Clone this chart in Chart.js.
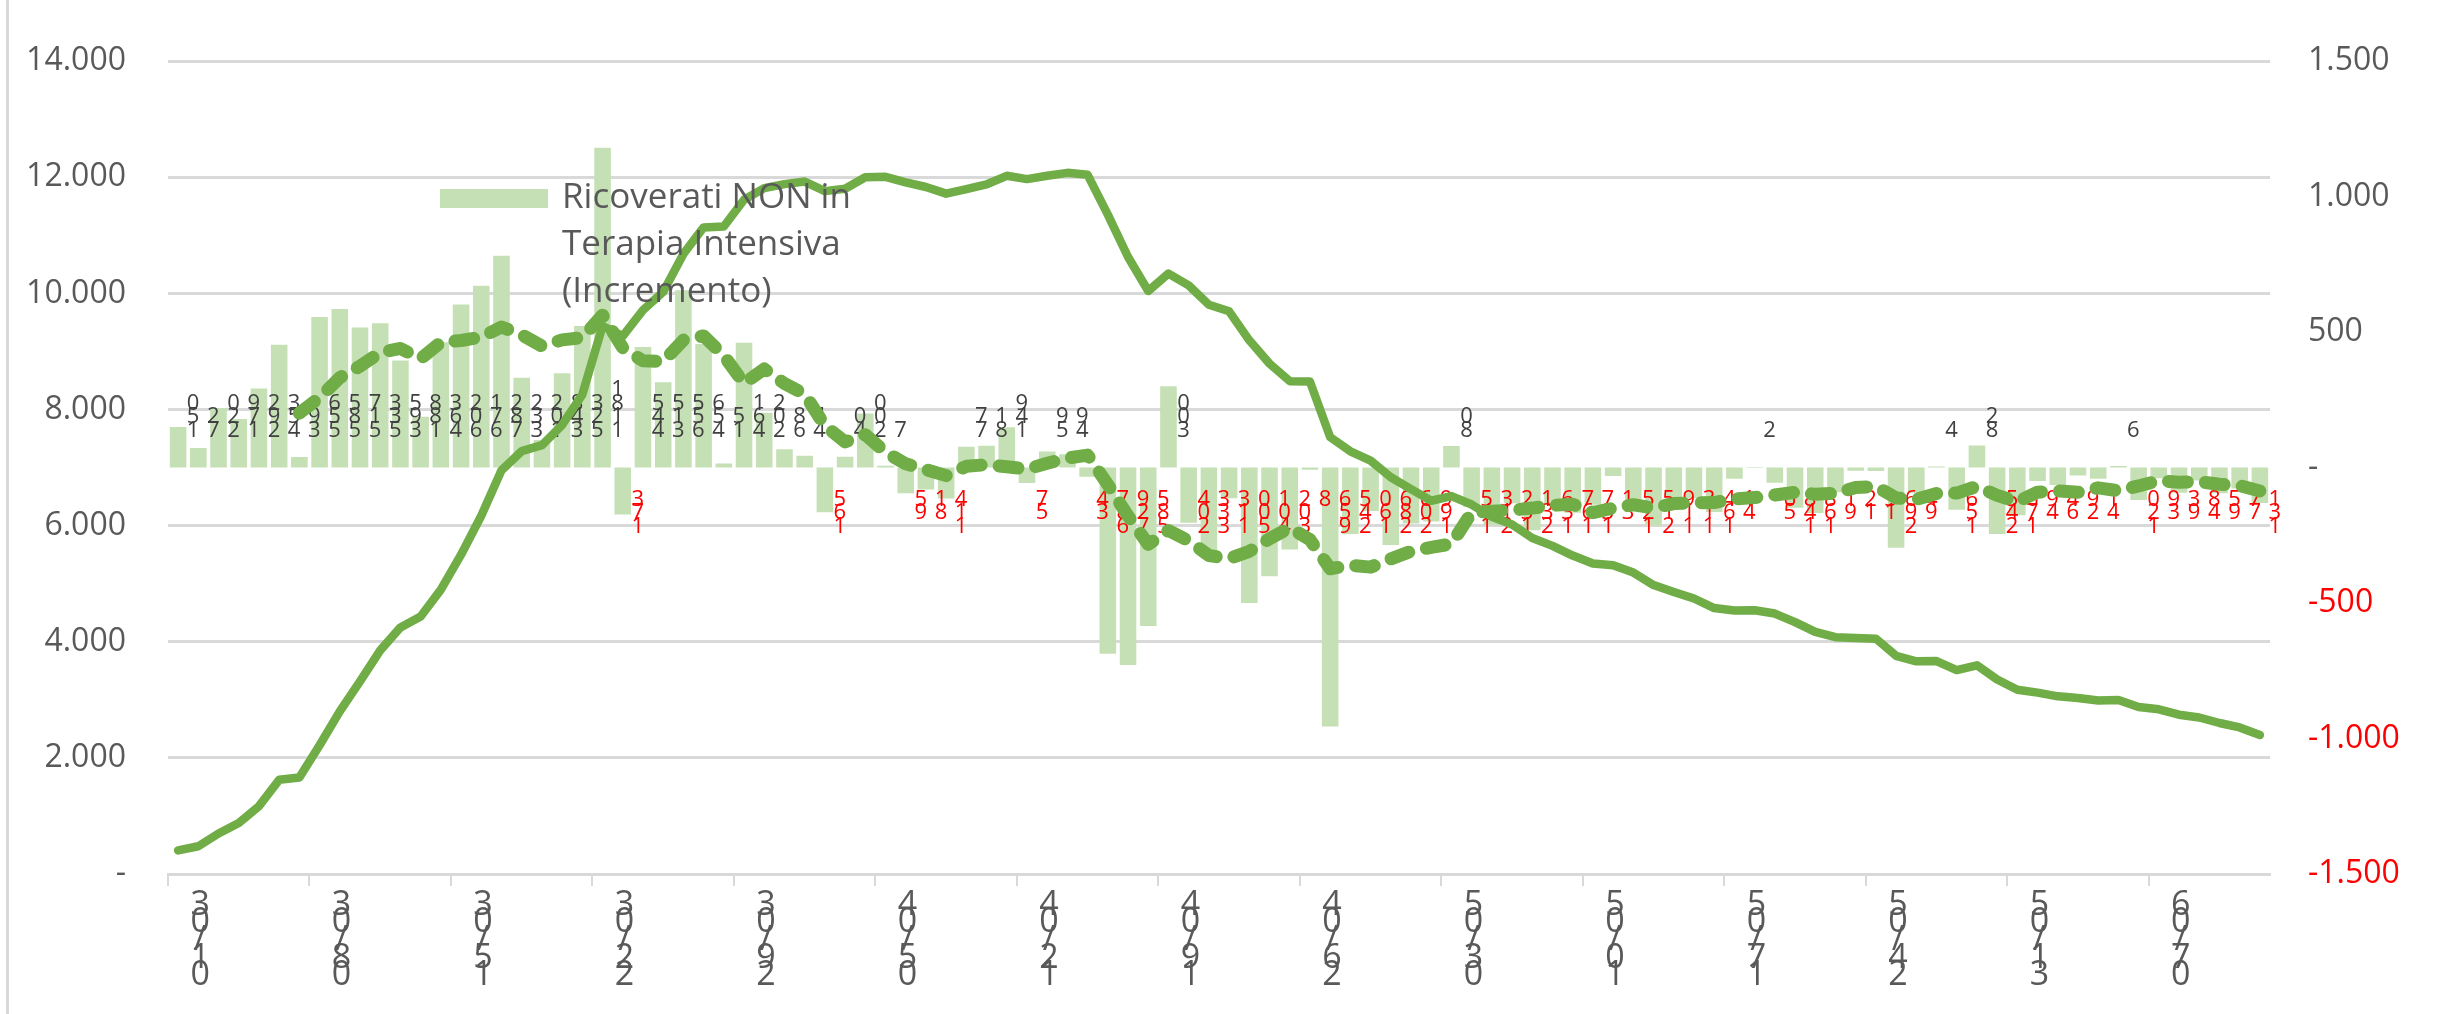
<!DOCTYPE html>
<html>
<head>
<meta charset="utf-8">
<script src="https://cdn.jsdelivr.net/npm/chart.js@4.4.1/dist/chart.umd.min.js"></script>
<style>
  html, body { margin: 0; padding: 0; background: #fff; }
  canvas { display: block; }
</style>
</head>
<body>
<canvas id="grafico" width="2447" height="1014"></canvas>
<script>
// giorni (1 marzo - 12 giugno)
const giorni = [
  '01/03','02/03','03/03','04/03','05/03','06/03','07/03','08/03','09/03','10/03',
  '11/03','12/03','13/03','14/03','15/03','16/03','17/03','18/03','19/03','20/03',
  '21/03','22/03','23/03','24/03','25/03','26/03','27/03','28/03','29/03','30/03',
  '31/03','01/04','02/04','03/04','04/04','05/04','06/04','07/04','08/04','09/04',
  '10/04','11/04','12/04','13/04','14/04','15/04','16/04','17/04','18/04','19/04',
  '20/04','21/04','22/04','23/04','24/04','25/04','26/04','27/04','28/04','29/04',
  '30/04','01/05','02/05','03/05','04/05','05/05','06/05','07/05','08/05','09/05',
  '10/05','11/05','12/05','13/05','14/05','15/05','16/05','17/05','18/05','19/05',
  '20/05','21/05','22/05','23/05','24/05','25/05','26/05','27/05','28/05','29/05',
  '30/05','31/05','01/06','02/06','03/06','04/06','05/06','06/06','07/06','08/06',
  '09/06','10/06','11/06','12/06'
];

// incremento giornaliero (barre, asse destro)
const incremento = [
  150, 72, 220, 179, 292, 453, 39, 556, 585, 517,
  533, 395, 188, 463, 602, 671, 782, 332, 102, 348,
  523, 1181, -173, 445, 315, 655, 456, 15, 461, 202,
  68, 44, -165, 40, 200, 7, -95, -81, -114, 77,
  81, 149, -57, 59, 49, -34, -687, -729, -585, 300,
  -204, -333, -113, -500, -401, -302, -8, -956, -245, -160,
  -286, -206, -199, 80, -145, -213, -132, -231, -136, -167,
  -137, -31, -125, -215, -119, -113, -164, -41, 2, -56,
  -148, -168, -91, -12, -13, -296, -94, 4, -156, 82,
  -245, -176, -49, -64, -29, -41, 6, -120, -39, -93,
  -48, -95, -77, -131
];

// totale ricoverati (linea continua, asse sinistro)
const ricoverati = [
  406, 478, 698, 877, 1169, 1622, 1661, 2217, 2802, 3319,
  3852, 4247, 4435, 4898, 5500, 6171, 6953, 7285, 7387, 7735,
  8258, 9439, 9266, 9711, 10026, 10681, 11137, 11152, 11613, 11815,
  11883, 11927, 11762, 11802, 12002, 12009, 11914, 11833, 11719, 11796,
  11877, 12026, 11969, 12028, 12077, 12043, 11356, 10627, 10042, 10342,
  10138, 9805, 9692, 9192, 8791, 8489, 8481, 7525, 7280, 7120,
  6834, 6628, 6429, 6509, 6364, 6151, 6019, 5788, 5652, 5485,
  5348, 5317, 5192, 4977, 4858, 4745, 4581, 4540, 4542, 4486,
  4338, 4170, 4079, 4067, 4054, 3758, 3664, 3668, 3512, 3594,
  3349, 3173, 3124, 3060, 3031, 2990, 2996, 2876, 2837, 2744,
  2696, 2601, 2524, 2393
];

// media mobile 7 periodi (tratteggiata, asse destro)
const mediaMobile = [
  null, null, null, null, null, null, 200.7, 258.7, 332.0, 374.4,
  425.0, 439.7, 401.9, 462.4, 469.0, 481.3, 519.1, 490.4, 448.6, 471.4,
  480.0, 562.7, 442.1, 394.0, 391.6, 470.6, 486.0, 413.4, 310.6, 364.1,
  310.3, 271.6, 154.4, 95.0, 121.4, 56.6, 14.1, -7.1, -29.7, 4.9,
  10.7, 3.4, -5.7, 16.3, 34.9, 46.3, -62.9, -178.6, -283.4, -232.4,
  -270.0, -324.6, -335.9, -309.1, -262.3, -221.9, -265.9, -373.3, -360.7, -367.4,
  -336.9, -309.0, -294.3, -281.7, -165.9, -161.3, -157.3, -149.4, -139.4, -134.9,
  -165.9, -149.6, -137.0, -148.9, -132.9, -129.6, -129.1, -115.4, -110.7, -100.9,
  -91.3, -98.3, -95.1, -73.4, -69.4, -112.0, -117.4, -95.7, -94.0, -69.3,
  -102.6, -125.9, -90.6, -86.3, -91.0, -74.6, -85.4, -67.6, -48.0, -54.3,
  -52.0, -61.4, -66.6, -86.1
];

const etichetteSx = ['-', '2.000', '4.000', '6.000', '8.000', '10.000', '12.000', '14.000'];
const etichetteDx = ['-1.500', '-1.000', '-500', '-', '500', '1.000', '1.500'];
const righeLegenda = ['Ricoverati NON in', 'Terapia Intensiva', '(Incremento)'];

const verdeChiaro = '#C5E0B4';
const verde = '#70AD47';
const grigio = '#595959';
const griglia = '#D9D9D9';
const font = 'Open Sans';

// etichette dati verticali (cifre impilate) sopra/sotto le barre
const etichetteBarre = {
  id: 'etichetteBarre',
  afterDatasetDraw(chart, args) {
    if (args.index !== 0) return;
    const ctx = chart.ctx;
    const zero = chart.scales.yDx.getPixelForValue(0);
    ctx.save();
    ctx.font = '22px "' + font + '"';
    ctx.textAlign = 'center';
    ctx.textBaseline = 'alphabetic';
    args.meta.data.forEach((barra, i) => {
      const v = incremento[i];
      const car = String(Math.abs(v)).split('').reverse();
      ctx.fillStyle = v < 0 ? '#FF0000' : '#404040';
      car.forEach((c, k) => {
        let y;
        if (v >= 0) y = zero - 31 - (car.length - 1 - k) * 13.5;
        else y = zero + 38 + k * 13.5;
        ctx.fillText(c, barra.x + 15, y);
      });
    });
    ctx.restore();
  }
};

const legendaEBordo = {
  id: 'legendaEBordo',
  beforeDraw(chart) {
    const ctx = chart.ctx;
    ctx.save();
    ctx.fillStyle = griglia;
    ctx.fillRect(6, 0, 3, chart.height);
    ctx.restore();
  },
  afterDraw(chart) {
    const ctx = chart.ctx;
    ctx.save();
    ctx.fillStyle = verdeChiaro;
    ctx.fillRect(440, 189, 108, 19);
    ctx.fillStyle = grigio;
    ctx.font = '35px "' + font + '"';
    ctx.textBaseline = 'middle';
    righeLegenda.forEach((r, i) => ctx.fillText(r, 562, 198 + i * 47));
    ctx.restore();
  }
};

new Chart(document.getElementById('grafico'), {
  data: {
    labels: giorni,
    datasets: [
      {
        type: 'bar',
        label: 'Ricoverati NON in Terapia Intensiva (Incremento)',
        data: incremento,
        yAxisID: 'yDx',
        backgroundColor: verdeChiaro,
        categoryPercentage: 1,
        barPercentage: 0.82,
        order: 3
      },
      {
        type: 'line',
        label: 'Ricoverati NON in Terapia Intensiva',
        data: ricoverati,
        yAxisID: 'ySx',
        borderColor: verde,
        borderWidth: 8.5,
        pointRadius: 0,
        tension: 0,
        borderJoinStyle: 'round',
        borderCapStyle: 'round',
        order: 2
      },
      {
        type: 'line',
        label: 'Media mobile 7 periodi',
        data: mediaMobile,
        yAxisID: 'yDx',
        borderColor: verde,
        borderWidth: 13,
        borderDash: [19, 18],
        borderCapStyle: 'round',
        borderJoinStyle: 'round',
        pointRadius: 0,
        tension: 0,
        order: 1
      }
    ]
  },
  options: {
    responsive: false,
    animation: false,
    layout: { padding: { top: 52, left: 0, right: 0, bottom: 0 } },
    plugins: { legend: { display: false }, tooltip: { enabled: false } },
    scales: {
      x: {
        offset: true,
        grid: {
          offset: true,
          drawOnChartArea: false,
          drawTicks: true,
          tickLength: 12,
          lineWidth: 2,
          color: (c) => (c.index % 7 === 0 ? griglia : 'rgba(0,0,0,0)')
        },
        border: { display: true, color: griglia, width: 3 },
        ticks: {
          autoSkip: false,
          maxRotation: 0,
          minRotation: 0,
          padding: 10,
          labelOffset: 22,
          color: grigio,
          font: { family: font, size: 34, lineHeight: 0.52 },
          callback: (v, i) => (i % 7 === 0 ? giorni[i].split('').reverse() : '')
        },
        afterFit: (s) => { s.height = 140; }
      },
      ySx: {
        position: 'left',
        min: 0,
        max: 14000,
        ticks: {
          stepSize: 2000,
          padding: 42,
          color: grigio,
          font: { family: font, size: 32 },
          callback: (v, i) => etichetteSx[i]
        },
        grid: { color: griglia, lineWidth: 3, drawTicks: false },
        border: { display: false },
        afterFit: (s) => { s.width = 168; }
      },
      yDx: {
        position: 'right',
        min: -1500,
        max: 1500,
        ticks: {
          stepSize: 500,
          padding: 38,
          color: (c) => (c.tick && c.tick.value < 0 ? '#FF0000' : grigio),
          font: { family: font, size: 32 },
          callback: (v, i) => etichetteDx[i]
        },
        grid: { display: false, drawTicks: false },
        border: { display: false },
        afterFit: (s) => { s.width = 177; }
      }
    }
  },
  plugins: [etichetteBarre, legendaEBordo]
});
</script>
</body>
</html>
